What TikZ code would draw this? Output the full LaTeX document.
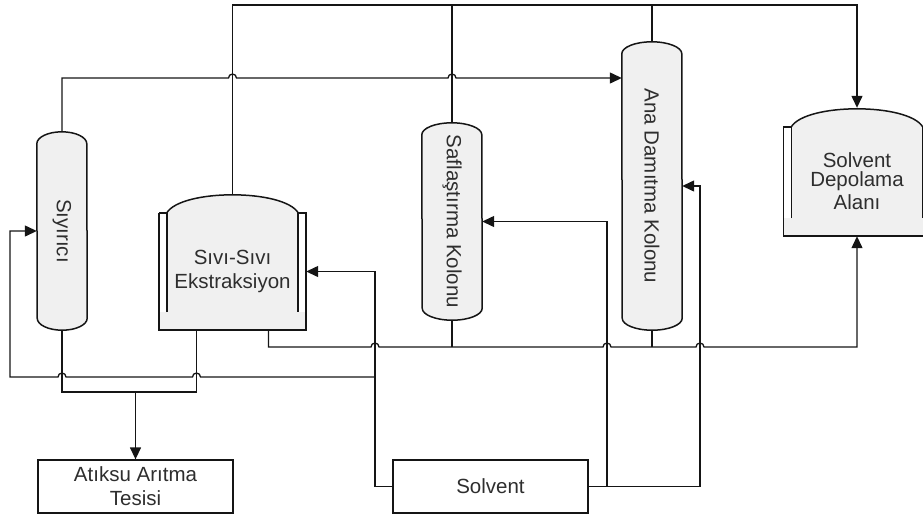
\documentclass[tikz,border=0pt]{standalone}
\usepackage{fontspec}
\setmainfont{Liberation Sans}
\usetikzlibrary{arrows.meta,calc,backgrounds}

\definecolor{pipe}{HTML}{151515}
\definecolor{shellfill}{HTML}{F0F0F0}
\definecolor{label}{HTML}{2E2E2E}

% capsule round a column node: #1 node, #2 half width, #3 cap height
\newcommand\capsule[3]{%
  \begin{scope}[on background layer]
    \filldraw[shell] ([yshift=-#3]#1.north west) arc[start angle=180,end angle=0,x radius=#2,y radius=#3]
      -- ([yshift=#3]#1.south east) arc[start angle=0,end angle=-180,x radius=#2,y radius=#3] -- cycle;
  \end{scope}}

% jacketed tank round a vessel node
\newcommand\tank[1]{%
  \begin{scope}[on background layer]
    \clip (0,0) rectangle (923,515);
    \fill[shellfill] ([xshift=8pt]#1.north west) .. controls +(15pt,24pt) and +(-15pt,24pt) .. ([xshift=-8pt]#1.north east)
      -- ([shift={(-8pt,18pt)}]#1.south east) -- ([yshift=18pt]#1.south east) -- (#1.south east)
      -- (#1.south west) -- ([yshift=18pt]#1.south west) -- ([shift={(8pt,18pt)}]#1.south west) -- cycle;
    \draw[tankline] (#1.north west) -- (#1.south west) -- (#1.south east) -- (#1.north east)
      -- ([xshift=-8pt]#1.north east) -- ([shift={(-8pt,18pt)}]#1.south east);
    \draw[tankline] ([shift={(8pt,18pt)}]#1.south west) -- ([xshift=8pt]#1.north west) -- (#1.north west);
    \draw[tankline] ([xshift=8pt]#1.north west) .. controls +(15pt,24pt) and +(-15pt,24pt) .. ([xshift=-8pt]#1.north east);
  \end{scope}}

\begin{document}
\begin{tikzpicture}[x=1pt, y=-1pt,
  every node/.style={font=\fontsize{20.5}{24}\selectfont, text=label, inner sep=0pt},
  shell/.style={draw=pipe, fill=shellfill, line width=1.5pt},
  tankline/.style={draw=pipe, line width=1.5pt},
  column/.style={minimum width=60pt},
  vessel/.style={minimum width=147pt, minimum height=117pt, align=center},
  box/.style={draw=pipe, line width=1.3pt, fill=white, minimum width=195pt, minimum height=53pt, align=center},
  pipe/.style={draw=pipe, line width=1.3pt},
  flow/.style={pipe, -{Triangle[length=12pt,width=11pt]}}]
  \useasboundingbox (0,0) rectangle (923,515);

  % columns
  \node[column, minimum width=50pt, minimum height=198pt] (sy) at (62,231) {\rotatebox{-90}{Sıyırıcı}};
  \node[column, minimum height=197pt] (sf) at (452,221.5) {\rotatebox{-90}{Saflaştırma Kolonu}};
  \node[column, minimum height=288pt] (ad) at (652,186) {\rotatebox{-90}{Ana Damıtma Kolonu}};
  \capsule{sy}{25pt}{12pt}
  \capsule{sf}{30pt}{12pt}
  \capsule{ad}{30pt}{12pt}

  % tanks
  \node[vessel] (ex) at (232.5,271.5) {Sıvı-Sıvı\\Ekstraksiyon};
  \node[vessel, minimum height=109pt] (sd) at (857,181.5) {\raisebox{-4pt}{\shortstack{Solvent\\[1pt]Depolama\\[1pt]Alanı}}};
  \tank{ex}
  \tank{sd}

  % boxes
  \node[box] (wt) at (135.5,486.5) {Atıksu Arıtma\\Tesisi};
  \node[box] (sv) at (490.5,486.5) {Solvent};

  % pipe levels and risers
  \coordinate (yTop) at (0,5);
  \coordinate (yFeed) at (0,78);
  \coordinate (yRet) at (0,347);
  \coordinate (yRec) at (0,377);
  \coordinate (yOut) at (0,392);
  \coordinate (xW) at (10,0);
  \coordinate (xL) at (375,0);
  \coordinate (xM) at (607,0);
  \coordinate (xR) at (700,0);
  \coordinate (ex-top) at ([yshift=18pt]ex.north);
  \coordinate (ex-o1) at ([xshift=-36pt]ex.south);
  \coordinate (ex-o2) at ([xshift=36pt]ex.south);
  \coordinate (sd-top) at ([yshift=19pt]sd.north);

  % overheads
  \draw[flow] (sy.north) |- ($(ex-top |- yFeed)+(-4pt,0)$) arc[start angle=180,end angle=0,radius=4pt]
    -- ($(sf.north |- yFeed)+(-4pt,0)$) arc[start angle=180,end angle=0,radius=4pt]
    -- (ad.west |- yFeed);
  \draw[flow] (ex-top) |- (sd-top |- yTop) -- (sd-top);
  \draw[pipe] (sf.north) -- (sf.north |- yTop);
  \draw[pipe] (ad.north) -- (ad.north |- yTop);

  % bottoms to waste water
  \draw[pipe] (sy.south) |- (ex-o1 |- yOut) -- (ex-o1);
  \draw[flow] (wt.north |- yOut) -- (wt.north);

  % fresh solvent
  \draw[flow] (sv.west) -- (xL |- sv.west) -- (xL |- ex.east) -- (ex.east);
  \draw[flow] (xL |- yRec) -- ($(ex-o1 |- yRec)+(4pt,0)$) arc[start angle=0,end angle=180,radius=4pt]
    -- ($(sy.south |- yRec)+(4pt,0)$) arc[start angle=0,end angle=180,radius=4pt]
    -- (xW |- yRec) |- (sy.west);
  \draw[flow] (sv.east) -- (xR |- sv.east) |- (ad.east);
  \draw[flow] (xM |- sv.east) |- (sf.east);

  % recovered solvent to storage
  \draw[flow] (ex-o2) |- ($(xL |- yRet)+(-4pt,0)$) arc[start angle=180,end angle=0,radius=4pt]
    -- ($(xM |- yRet)+(-4pt,0)$) arc[start angle=180,end angle=0,radius=4pt]
    -- ($(xR |- yRet)+(-4pt,0)$) arc[start angle=180,end angle=0,radius=4pt]
    -- (sd.south |- yRet) -- (sd.south);
  \draw[pipe] (sf.south) -- (sf.south |- yRet);
  \draw[pipe] (ad.south) -- (ad.south |- yRet);
\end{tikzpicture}
\end{document}
